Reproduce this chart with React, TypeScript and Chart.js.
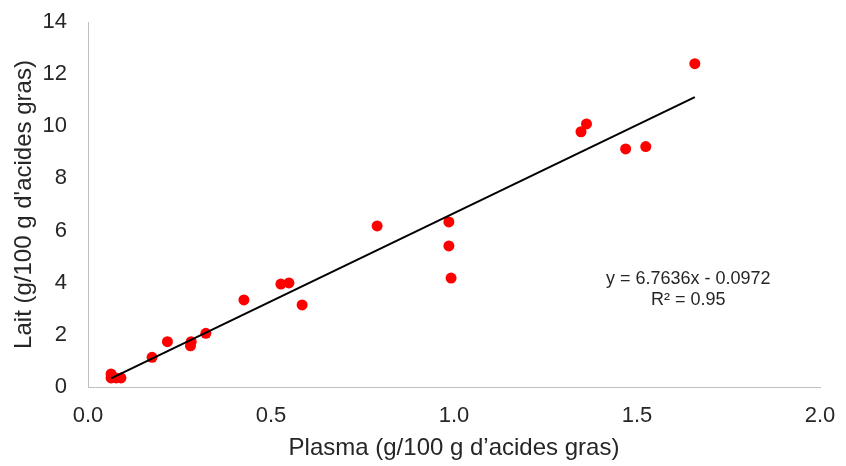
import React, { useEffect, useRef } from "react";
import { Chart, registerables } from "chart.js";

Chart.register(...registerables);

const plasma = [0.063, 0.063, 0.077, 0.090, 0.175, 0.217, 0.280, 0.282, 0.322, 0.426, 0.527, 0.549, 0.585, 0.790, 0.986, 0.986, 0.992, 1.347, 1.362, 1.469, 1.524, 1.658];
const lait = [0.35, 0.50, 0.35, 0.35, 1.14, 1.74, 1.58, 1.74, 2.06, 3.34, 3.95, 3.99, 3.15, 6.18, 6.33, 5.41, 4.18, 9.79, 10.09, 9.13, 9.22, 12.40];
const slope = 6.7636;
const intercept = -0.0972;
const equationLabel = "y = 6.7636x - 0.0972";
const r2Label = "R² = 0.95";
const xTitle = "Plasma (g/100 g d\u2019acides gras)";
const yTitle = "Lait (g/100 g d'acides gras)";

const textColor = "#262626";
const font = "'Liberation Sans', Arial, sans-serif";

export default function App() {
  const ref = useRef<HTMLCanvasElement>(null);
  useEffect(() => {
    const canvas = ref.current!;
    const xMin = Math.min(...plasma);
    const xMax = Math.max(...plasma);
    const trend = [
      { x: xMin, y: slope * xMin + intercept },
      { x: xMax, y: slope * xMax + intercept },
    ];
    const eqPlugin = {
      id: "eq",
      afterDatasetsDraw(chart: any) {
        const { ctx, scales } = chart;
        const cx = scales.x.getPixelForValue(1.64);
        const cy = scales.y.getPixelForValue(4.14);
        ctx.save();
        ctx.fillStyle = textColor;
        ctx.font = `18px ${font}`;
        ctx.textAlign = "center";
        ctx.textBaseline = "middle";
        ctx.fillText(equationLabel, cx, cy);
        ctx.fillText(r2Label, cx, cy + 21);
        ctx.restore();
      },
    };
    const chart = new Chart(canvas, {
      type: "scatter",
      data: {
        datasets: [
          {
            label: "data",
            data: plasma.map((x, i) => ({ x, y: lait[i] })),
            backgroundColor: "#ff0000",
            borderColor: "#ff0000",
            pointRadius: 5.5,
            pointBorderWidth: 0,
            order: 1,
          },
          {
            type: "line",
            label: "trend",
            data: trend,
            borderColor: "#000000",
            borderWidth: 2,
            pointRadius: 0,
            showLine: true,
            fill: false,
            order: 0,
          } as any,
        ],
      },
      options: {
        animation: false,
        responsive: false,
        layout: { padding: { top: 22, right: 26, left: 0, bottom: 0 } },
        plugins: { legend: { display: false }, tooltip: { enabled: false } },
        scales: {
          x: {
            type: "linear",
            min: 0,
            max: 2,
            grid: { display: false, drawTicks: false },
            border: { display: true, color: "#bfbfbf", width: 1 },
            ticks: {
              stepSize: 0.5,
              padding: 16,
              color: textColor,
              font: { family: font, size: 22 },
              callback: (v: any) => Number(v).toFixed(1),
            },
            title: {
              display: true,
              text: xTitle,
              color: textColor,
              font: { family: font, size: 24 },
              padding: { top: 0, bottom: 3 },
            },
            afterFit: (s: any) => {
              s.height = 79;
              s.paddingLeft = 0;
              s.paddingRight = 0;
            },
          },
          y: {
            type: "linear",
            min: 0,
            max: 14,
            grid: { display: false, drawTicks: false },
            border: { display: true, color: "#bfbfbf", width: 1 },
            ticks: {
              stepSize: 2,
              padding: 21,
              color: textColor,
              font: { family: font, size: 22 },
            },
            title: {
              display: true,
              text: yTitle,
              color: textColor,
              font: { family: font, size: 24 },
              padding: { top: 10, bottom: 0 },
            },
            afterFit: (s: any) => {
              s.width = 88;
              s.paddingTop = 0;
              s.paddingBottom = 0;
            },
          },
        },
      },
      plugins: [eqPlugin],
    });
    return () => chart.destroy();
  }, []);
  return (
    <div style={{ position: "fixed", left: 0, top: 0, width: 846, height: 466, background: "#fff" }}>
      <canvas ref={ref} width={846} height={466} />
    </div>
  );
}
